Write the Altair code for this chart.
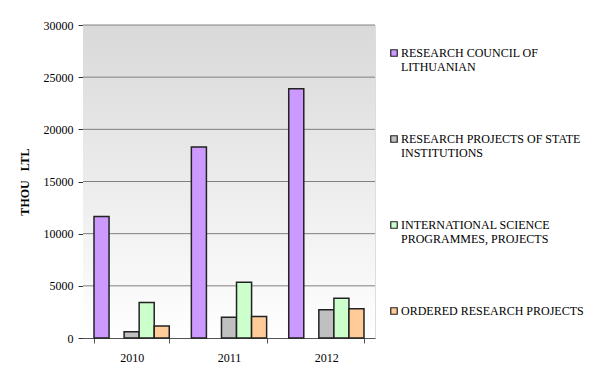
import altair as alt
import pandas as pd

years = ["2010", "2011", "2012"]
series = [
    "RESEARCH COUNCIL OF LITHUANIAN",
    "(none)",
    "RESEARCH PROJECTS OF STATE INSTITUTIONS",
    "INTERNATIONAL SCIENCE PROGRAMMES, PROJECTS",
    "ORDERED RESEARCH PROJECTS",
]
council = [11650, 18300, 23900]
state = [600, 2000, 2700]
international = [3400, 5350, 3800]
ordered = [1150, 2050, 2800]
colors = ["#cc99ff", "#ffffff", "#c0c0c0", "#ccffcc", "#ffcc99"]
y_ticks = [0, 5000, 10000, 15000, 20000, 25000, 30000]

rows = []
for i, y in enumerate(years):
    rows.append({"year": y, "series": series[0], "value": council[i]})
    rows.append({"year": y, "series": series[2], "value": state[i]})
    rows.append({"year": y, "series": series[3], "value": international[i]})
    rows.append({"year": y, "series": series[4], "value": ordered[i]})
df = pd.DataFrame(rows)

font = "Liberation Serif"

bg = alt.Chart(pd.DataFrame({"a": [0]})).mark_rect(
    fill=alt.Gradient(
        gradient="linear", x1=0, y1=0, x2=0, y2=1,
        stops=[alt.GradientStop(color="#d9d9d9", offset=0),
               alt.GradientStop(color="#ffffff", offset=1)],
    )
).encode(x=alt.value(0), x2=alt.value("width"), y=alt.value(0), y2=alt.value("height"))

grid = alt.Chart(pd.DataFrame({"v": y_ticks[1:]})).mark_rule(color="#808080", strokeWidth=1).encode(
    y=alt.Y("v:Q", scale=alt.Scale(domain=[0, 30000])),
)

label_expr = (
    "datum.label == 'RESEARCH COUNCIL OF LITHUANIAN' ? ['RESEARCH COUNCIL OF', 'LITHUANIAN'] : "
    "datum.label == 'RESEARCH PROJECTS OF STATE INSTITUTIONS' ? ['RESEARCH PROJECTS OF STATE', 'INSTITUTIONS'] : "
    "datum.label == 'INTERNATIONAL SCIENCE PROGRAMMES, PROJECTS' ? ['INTERNATIONAL SCIENCE', 'PROGRAMMES, PROJECTS'] : "
    "[datum.label, '']"
)

bars = alt.Chart(df).mark_bar(stroke="#222222", strokeWidth=1.5).encode(
    x=alt.X("year:N", sort=years,
            scale=alt.Scale(paddingInner=0.227, paddingOuter=0.113),
            axis=alt.Axis(title=None, labelAngle=0, tickBand="extent", labelPadding=9,
                          domainColor="#555555", tickColor="#555555", tickSize=5,
                          labelFont=font, labelFontSize=12, labelColor="#000000")),
    xOffset=alt.XOffset("series:N", sort=series, scale=alt.Scale(domain=series, paddingInner=0, paddingOuter=0)),
    y=alt.Y("value:Q", scale=alt.Scale(domain=[0, 30000]),
            axis=alt.Axis(title="THOU\u00a0\u00a0\u00a0LTL", values=y_ticks, grid=False,
                          format="d",
                          domainColor="#333333", tickColor="#333333", tickSize=5,
                          labelFont=font, labelFontSize=12, labelColor="#000000", labelPadding=5,
                          titleFont=font, titleFontSize=12, titleFontWeight="bold",
                          titleColor="#000000", titlePadding=12)),
    color=alt.Color("series:N", sort=series,
                    scale=alt.Scale(domain=series, range=colors),
                    legend=alt.Legend(title=None, orient="none", legendX=305, legendY=22,
                                      values=[series[0], series[2], series[3], series[4]],
                                      symbolType="square", symbolSize=42,
                                      symbolStrokeColor="#222222", symbolStrokeWidth=1.2,
                                      labelFont=font, labelFontSize=12, labelColor="#000000",
                                      labelOffset=1,
                                      labelLimit=300, rowPadding=60, labelExpr=label_expr)),
)

chart = alt.layer(bg, grid, bars).properties(
    width=292, height=313,
    autosize=alt.AutoSizeParams(type="none"),
    padding={"left": 75, "top": 17, "right": 217, "bottom": 37},
).configure_view(stroke="#999999", strokeWidth=1).configure(background="#ffffff")

chart.save("out.html", embed_options={"renderer": "svg", "actions": False})
